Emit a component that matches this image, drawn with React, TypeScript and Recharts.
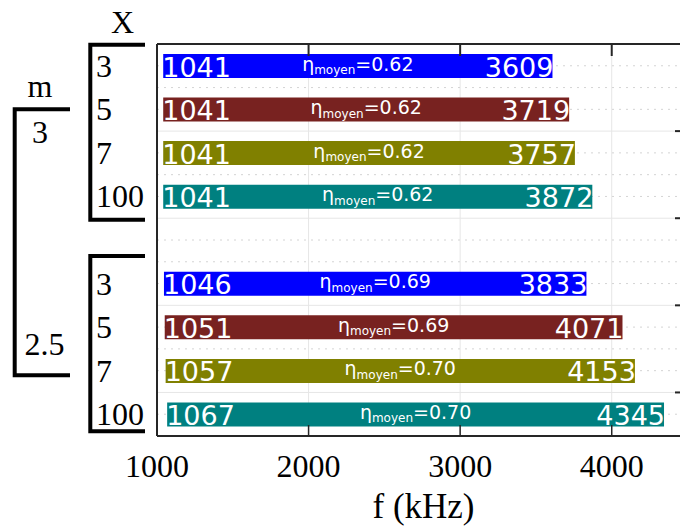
import { BarChart, Bar, XAxis, YAxis, CartesianGrid, Cell, LabelList, Label } from 'recharts';

const xValues = ['3', '5', '7', '100'];
const mValues = ['3', '2.5'];
const fMin = [1041, 1041, 1041, 1041, 1046, 1051, 1057, 1067];
const fMax = [3609, 3719, 3757, 3872, 3833, 4071, 4153, 4345];
const etaMoyen = [0.62, 0.62, 0.62, 0.62, 0.69, 0.69, 0.7, 0.7];
const fTicks = [1000, 2000, 3000, 4000];
const majorRows = [4, 8, 12, 16];
const minorRows = [1, 2, 3, 5, 6, 7, 9, 10, 11, 13, 14, 15, 17];
const xColors = ['#0000ff', '#782220', '#808000', '#008080'];

// one row per (m, X) pair, with an empty row between the two m groups
type Row = { row: string; label: string; range: number[] | null; eta: number | null; color: string };
const rows: Row[] = [];
mValues.forEach((m, g) => {
  if (g > 0) rows.push({ row: `gap${g}`, label: '', range: null, eta: null, color: 'none' });
  xValues.forEach((x, i) => {
    const k = g * xValues.length + i;
    rows.push({ row: `m${m}-X${x}`, label: x, range: [fMin[k], fMax[k]], eta: etaMoyen[k], color: xColors[i] });
  });
});
// labels are indexed over drawn bars only
const barRows = rows.filter((r) => r.range);

const F_DOMAIN = [1000, 4490];
const GRID_STEPS = 18;
const serif = '"Liberation Serif", "Times New Roman", serif';
const sans = '"DejaVu Sans", Verdana, sans-serif';
const axisColor = '#262626';

// plot frame
const W = 690;
const H = 526;
const M = { top: 44, right: 4, bottom: 50, left: 0 };
const Y_AXIS_W = 157;
const X_AXIS_H = 40;
const PL = M.left + Y_AXIS_W;
const PR = W - M.right;
const PT = M.top;
const PB = H - M.bottom - X_AXIS_H;
const fx = (f: number) => PL + ((f - F_DOMAIN[0]) / (F_DOMAIN[1] - F_DOMAIN[0])) * (PR - PL);
const gy = (r: number) => PT + (r / GRID_STEPS) * (PB - PT);

const RowTick = (props: any) => {
  const r = rows.find((d) => d.row === props.payload.value);
  if (!r || !r.label) return null;
  return (
    <text x={96} y={props.y + 11} fontFamily={serif} fontSize={32} fill="#000">
      {r.label}
    </text>
  );
};

const BottomTick = (props: any) => (
  <g>
    <line x1={props.x} x2={props.x} y1={props.y - 11} y2={props.y} stroke={axisColor} strokeWidth={1.5} />
    <text x={props.x} y={props.y + 41} textAnchor="middle" fontFamily={serif} fontSize={32} fill="#000">
      {props.payload.value}
    </text>
  </g>
);

const BarText = (props: any) => {
  const r = barRows[props.index];
  if (!r || !r.range) return null;
  const x = Number(props.x);
  const w = Number(props.width);
  const cy = Number(props.y) + Number(props.height) / 2;
  return (
    <g fill="#fff" fontFamily={sans}>
      <text x={x - 1} y={cy + 10.5} fontSize={27}>
        {r.range[0]}
      </text>
      <text x={x + w + 1} y={cy + 10.5} fontSize={27} textAnchor="end">
        {r.range[1]}
      </text>
      <text x={x + w / 2} y={cy + 4.5} fontSize={19} textAnchor="middle">
        η
        <tspan fontSize={12} dy={3.5}>
          moyen
        </tspan>
        <tspan dy={-3.5}>={r.eta!.toFixed(2)}</tspan>
      </text>
    </g>
  );
};

const AxisTitle = (props: any) => {
  const vb = props.viewBox;
  return (
    <text x={vb.x + vb.width / 2 + 2} y={518} textAnchor="middle" fontFamily={serif} fontSize={35} fill="#000">
      f (kHz)
    </text>
  );
};

// brackets, group titles and the top / right frame of the box
const Overlay = () => (
  <svg width={680} height={526} style={{ position: 'absolute', left: 0, top: 0, pointerEvents: 'none' }}>
    <g stroke={axisColor} strokeWidth={2}>
      <line x1={PL} x2={PR} y1={PT} y2={PT} />
      {fTicks.slice(1).map((t) => (
        <line key={t} x1={fx(t)} x2={fx(t)} y1={PT} y2={PT + 12} />
      ))}
      {majorRows.map((r) => (
        <line key={r} x1={PR - 11} x2={PR} y1={gy(r)} y2={gy(r)} />
      ))}
    </g>
    <g fill="none" stroke="#000" strokeWidth={4}>
      <path d="M145,44.7 H90.3 V219.7 H145" />
      <path d="M145,256 H90.3 V431.3 H145" />
      <path d="M70,109.3 H14.7 V375.3 H70" />
    </g>
    <g fontFamily={serif} fontSize={32} fill="#000">
      <text x={122.5} y={33} textAnchor="middle">X</text>
      <text x={40} y={97} textAnchor="middle">m</text>
      <text x={40} y={143} textAnchor="middle">{mValues[0]}</text>
      <text x={44.5} y={355} textAnchor="middle">{mValues[1]}</text>
    </g>
  </svg>
);

export default function App() {
  return (
    <div style={{ position: 'relative', width: W, height: H, background: '#fff' }}>
      <style>{'html, body { margin: 0; padding: 0; overflow: hidden; background: #fff; }'}</style>
      <BarChart width={W} height={H} data={rows} layout="vertical" margin={M}>
        <CartesianGrid horizontal={false} stroke="#e6e6e6" />
        <CartesianGrid
          vertical={false}
          stroke="#d4d4d4"
          strokeDasharray="2 5"
          horizontalCoordinatesGenerator={() => minorRows.map(gy)}
        />
        <CartesianGrid vertical={false} stroke="#e6e6e6" horizontalCoordinatesGenerator={() => majorRows.map(gy)} />
        <XAxis
          type="number"
          domain={F_DOMAIN}
          allowDataOverflow
          ticks={fTicks}
          interval={0}
          height={X_AXIS_H}
          tickSize={0}
          tickMargin={0}
          tickLine={false}
          tick={<BottomTick />}
          axisLine={{ stroke: axisColor, strokeWidth: 2 }}
        >
          <Label content={<AxisTitle />} />
        </XAxis>
        <YAxis
          type="category"
          dataKey="row"
          width={Y_AXIS_W}
          interval={0}
          tickLine={false}
          tick={<RowTick />}
          axisLine={{ stroke: axisColor, strokeWidth: 2 }}
        />
        <Bar dataKey="range" barSize={24} isAnimationActive={false}>
          {rows.map((r) => (
            <Cell key={r.row} fill={r.color} />
          ))}
          <LabelList dataKey="range" content={<BarText />} />
        </Bar>
      </BarChart>
      <Overlay />
    </div>
  );
}
